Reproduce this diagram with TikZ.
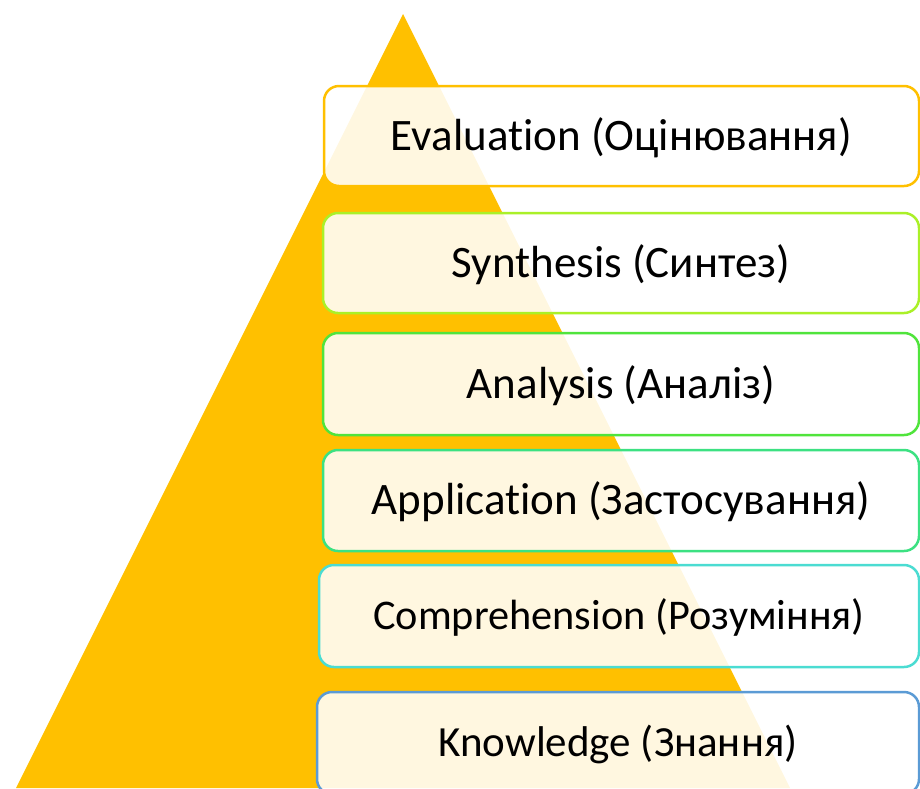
\documentclass[tikz,border=0pt]{standalone}
\usepackage{fontspec}
\setmainfont[RawFeature={-liga}]{Carlito}
\definecolor{pyr}{RGB}{255,192,0}
\definecolor{cEval}{RGB}{255,192,0}
\definecolor{cSyn}{RGB}{170,240,40}
\definecolor{cAna}{RGB}{80,228,60}
\definecolor{cApp}{RGB}{60,225,130}
\definecolor{cComp}{RGB}{75,220,210}
\definecolor{cKnow}{RGB}{91,155,213}
\tikzset{
  level/.style={draw=#1, line width=2.5pt, rounded corners=15pt, fill=white,
    fill opacity=0.88, text opacity=1, text=black, inner sep=0pt,
    text depth=0pt},
  fs/.style={font=\fontsize{#1}{#1}\selectfont, text height=0.63*#1 pt},
}
\begin{document}
\begin{tikzpicture}[x=1pt,y=-1pt]
\useasboundingbox (0,0) rectangle (920,788);
\clip (0,0) rectangle (920,788);
\fill[pyr] (403,14) -- (16,788) -- (790,788) -- cycle;
\node[level=cEval, fs=45, minimum width=595pt, minimum height=100pt] (eval) at (621.5,136) {Evaluation (Оцінювання)};
\node[level=cSyn, fs=45, minimum width=596pt, minimum height=100pt] (syn) at (621,263) {Synthesis (Синтез)};
\node[level=cAna, fs=45, minimum width=596pt, minimum height=102pt] (ana) at (621,384) {Analysis (Аналіз)};
\node[level=cApp, fs=45, minimum width=596pt, minimum height=101pt] (app) at (621,500.5) {Application (Застосування)};
\node[level=cComp, fs=42.3, minimum width=600pt, minimum height=102pt] (comp) at (619,616) {Comprehension (Розуміння)};
\node[level=cKnow, fs=43, minimum width=602pt, minimum height=102pt] (know) at (618,743) {Knowledge (Знання)};
\end{tikzpicture}
\end{document}
